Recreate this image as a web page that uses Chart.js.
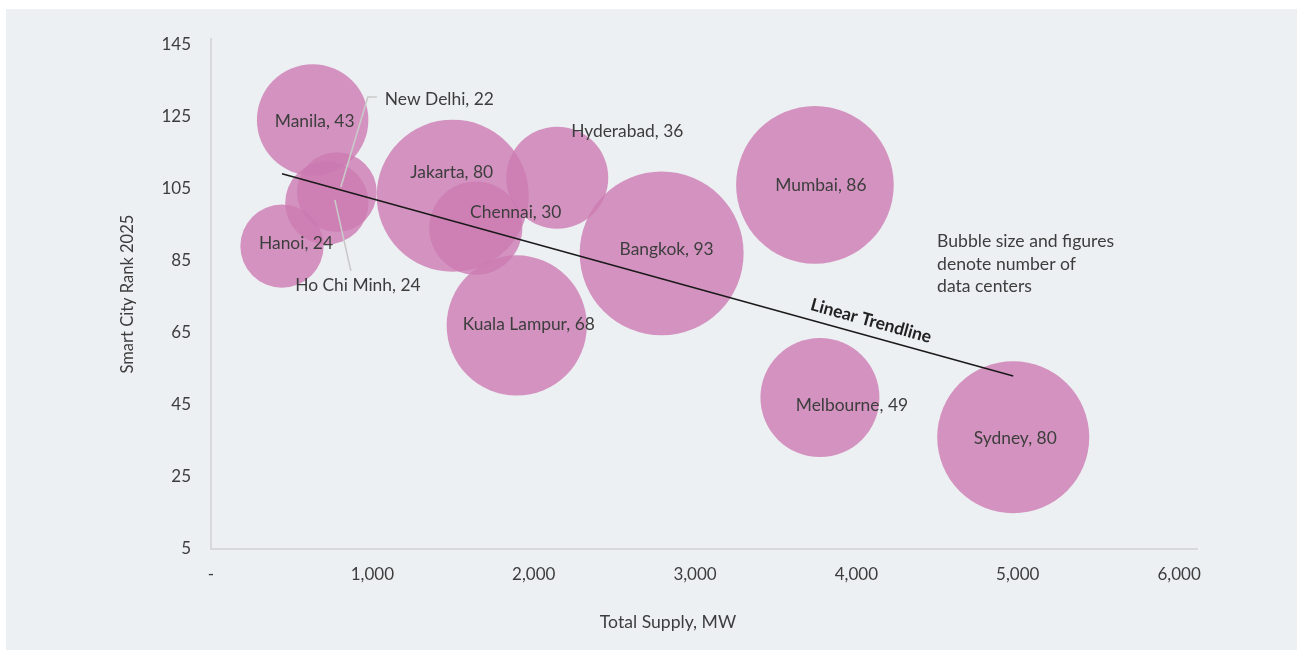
<!DOCTYPE html>
<html>
<head>
<meta charset="utf-8">
<script src="https://cdn.jsdelivr.net/npm/chart.js@4.4.0/dist/chart.umd.min.js"></script>
<style>
  body { margin: 0; background: #fff; }
  #wrap { position: absolute; left: 6px; top: 9px; width: 1291px; height: 641px; background: #edf0f3; }
</style>
</head>
<body>
<div id="wrap"><canvas id="myChart"></canvas></div>
<script>
const cities = ['Manila', 'New Delhi', 'Ho Chi Minh', 'Hanoi', 'Jakarta', 'Chennai', 'Kuala Lampur', 'Hyderabad', 'Bangkok', 'Mumbai', 'Melbourne', 'Sydney'];
const supplyMW = [630, 780, 718, 440, 1498, 1641, 1895, 2146, 2793, 3743, 3774, 4972];
const smartRank = [124, 104, 101, 89, 103, 94, 67, 108, 87, 106, 47, 36];
const dataCenters = [43, 22, 24, 24, 80, 30, 68, 36, 93, 86, 49, 80];
const trendX = [440, 4972];
const trendY = [109.1, 53.0];
const xTicks = [0, 1000, 2000, 3000, 4000, 5000, 6000];
const yTicks = [5, 25, 45, 65, 85, 105, 125, 145];

const FONT = 'Lato, "Noto Sans", sans-serif';
const TEXT = '#3d3d3d';

// label offsets from bubble centre (px), optional align
const labelPos = {
    'Manila': [2, 1],
    'New Delhi': [48, -93, 'left'],
    'Ho Chi Minh': [31, 83],
    'Hanoi': [14, -3],
    'Jakarta': [-1, -23],
    'Chennai': [40, -16],
    'Kuala Lampur': [12, -1],
    'Hyderabad': [70, -46],
    'Bangkok': [5, -4],
    'Mumbai': [6, 1],
    'Melbourne': [32, 8],
    'Sydney': [2, 1]
};
const leaders = {
    'New Delhi': [[4, -5], [31, -95], [40, -95]],
    'Ho Chi Minh': [[8, -3], [24, 68]]
};

const extras = {
    id: 'extras',
    afterDatasetsDraw(chart) {
        const ctx = chart.ctx;
        const bubbles = chart.getDatasetMeta(0).data;
        const trend = chart.getDatasetMeta(1).data;
        ctx.save();

        // leader lines
        ctx.strokeStyle = '#c9c9c9';
        ctx.lineWidth = 1.6;
        cities.forEach((c, i) => {
            if (!leaders[c]) return;
            const p = bubbles[i];
            ctx.beginPath();
            leaders[c].forEach((o, k) => {
                if (k === 0) ctx.moveTo(p.x + o[0], p.y + o[1]);
                else ctx.lineTo(p.x + o[0], p.y + o[1]);
            });
            ctx.stroke();
        });

        // bubble labels
        ctx.font = '17.4px ' + FONT;
        ctx.fillStyle = TEXT;
        ctx.textBaseline = 'middle';
        cities.forEach((c, i) => {
            const p = bubbles[i];
            const o = labelPos[c];
            ctx.textAlign = o[2] || 'center';
            ctx.fillText(c + ', ' + dataCenters[i], p.x + o[0], p.y + o[1]);
        });

        // trendline label
        const a = trend[0], b = trend[1];
        const ang = Math.atan2(b.y - a.y, b.x - a.x);
        const t = 0.8;
        const lx = a.x + (b.x - a.x) * t, ly = a.y + (b.y - a.y) * t;
        ctx.translate(lx + Math.sin(ang) * 15, ly - Math.cos(ang) * 15);
        ctx.rotate(ang);
        ctx.font = 'bold 17.5px ' + FONT;
        ctx.fillStyle = '#222';
        ctx.textAlign = 'center';
        ctx.fillText('Linear Trendline', 0, 0);
        ctx.restore();

        // note
        ctx.save();
        const xs = chart.scales.x, ys = chart.scales.y;
        ctx.font = '17.6px ' + FONT;
        ctx.fillStyle = TEXT;
        ctx.textAlign = 'left';
        ctx.textBaseline = 'middle';
        const nx = xs.getPixelForValue(4500), ny = ys.getPixelForValue(90.3);
        ['Bubble size and figures', 'denote number of', 'data centers'].forEach((s, k) => {
            ctx.fillText(s, nx, ny + k * 22.5);
        });

        // x axis title
        ctx.textAlign = 'center';
        ctx.fillText('Total Supply, MW', 662, 613);
        ctx.restore();
    }
};

const ctx = document.getElementById('myChart').getContext('2d');
new Chart(ctx, {
    type: 'bubble',
    data: {
        datasets: [{
            label: 'Data centers',
            data: cities.map((c, i) => ({ x: supplyMW[i], y: smartRank[i], r: 8.5 * Math.sqrt(dataCenters[i]) })),
            backgroundColor: 'rgba(204,122,178,0.8)',
            borderWidth: 0,
            hoverBorderWidth: 0,
            order: 1
        }, {
            type: 'line',
            label: 'Linear Trendline',
            data: trendX.map((x, i) => ({ x: x, y: trendY[i] })),
            borderColor: '#1a1a1a',
            borderWidth: 1.6,
            pointRadius: 0,
            fill: false,
            order: 0
        }]
    },
    options: {
        responsive: true,
        maintainAspectRatio: false,
        animation: false,
        layout: { autoPadding: false, padding: { left: 108, top: 29, right: 100, bottom: 0 } },
        plugins: { legend: { display: false }, tooltip: { enabled: false } },
        scales: {
            x: {
                type: 'linear',
                min: 0,
                max: 6111,
                afterBuildTicks: axis => { axis.ticks = xTicks.map(v => ({ value: v })); },
                afterFit: axis => { axis.height = 101; },
                grid: { display: false, drawTicks: false },
                border: { display: true, color: '#d9d9d9', width: 2 },
                ticks: {
                    padding: 15,
                    color: TEXT,
                    font: { family: FONT, size: 17 },
                    maxRotation: 0,
                    callback: v => v === 0 ? '-' : v.toLocaleString('en-US')
                }
            },
            y: {
                type: 'linear',
                min: 5,
                max: 146.4,
                afterBuildTicks: axis => { axis.ticks = yTicks.map(v => ({ value: v })); },
                afterFit: axis => { axis.width = 97; },
                grid: { display: false, drawTicks: false },
                border: { display: true, color: '#d9d9d9', width: 2 },
                ticks: {
                    padding: 20,
                    color: TEXT,
                    font: { family: FONT, size: 17 }
                },
                title: {
                    display: true,
                    text: 'Smart City Rank 2025',
                    color: TEXT,
                    font: { family: FONT, size: 16.5 }
                }
            }
        }
    },
    plugins: [extras]
});
</script>
</body>
</html>
